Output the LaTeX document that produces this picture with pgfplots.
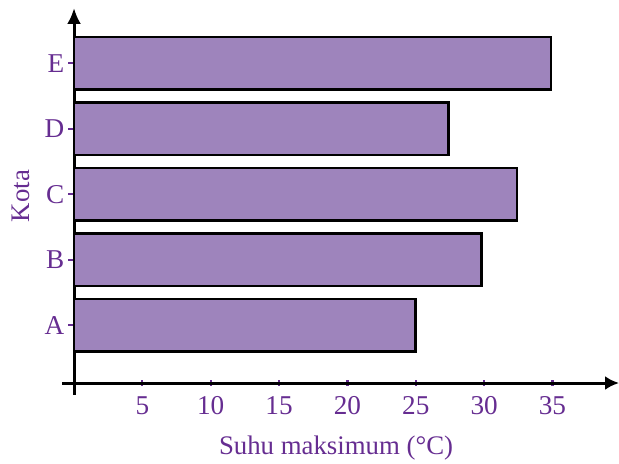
\documentclass[border=0pt]{standalone}
\usepackage{pgfplots}
\pgfplotsset{compat=1.18}
\usepackage{fontspec}
\setmainfont{Liberation Serif}
\usetikzlibrary{arrows.meta}
\definecolor{barfill}{HTML}{9E84BC}
\definecolor{txt}{HTML}{662D91}
\begin{document}
\begin{tikzpicture}
\useasboundingbox (0,0) rectangle (309.5pt,232pt);
\begin{axis}[
  at={(31pt,34.5pt)}, anchor=south west,
  scale only axis, width=278.5pt, height=193.5pt,
  xmin=-0.88, xmax=39.87, ymin=-0.183, ymax=5.725,
  axis lines=middle,
  axis line style={line width=1.5pt, black},
  every inner x axis line/.append style={-{Latex[length=7pt,width=7pt]}},
  every inner y axis line/.append style={-{Latex[length=8pt,width=7pt]}},
  xtick={5,10,...,35},
  ytick={0.88,1.88,2.88,3.88,4.88},
  yticklabels={A,B,C,D,E},
  xtick align=center,
  ytick align=outside,
  major tick length=2.8pt,
  tick style={txt, line width=1.1pt},
  tick label style={font=\fontsize{13.6}{15}\selectfont, text=txt},
  xticklabel style={yshift=-2pt},
  yticklabel style={xshift=1.5pt},
  /pgf/number format/assume math mode=true,
  xlabel={Suhu maksimum (°C)},
  ylabel={Kota},
  label style={font=\fontsize{13.4}{15}\selectfont, text=txt},
  xlabel style={at={(axis description cs:0.492,-0.137)}, anchor=center},
  ylabel style={at={(axis description cs:-0.0736,0.514)}, anchor=center, rotate=90},
  xbar, bar width=26.3pt,
  clip=false,
]
\addplot[fill=barfill, draw=black, line width=1.3pt] coordinates {(25,0.88) (29.8,1.88) (32.4,2.88) (27.4,3.88) (34.9,4.88)};
\end{axis}
\end{tikzpicture}
\end{document}
